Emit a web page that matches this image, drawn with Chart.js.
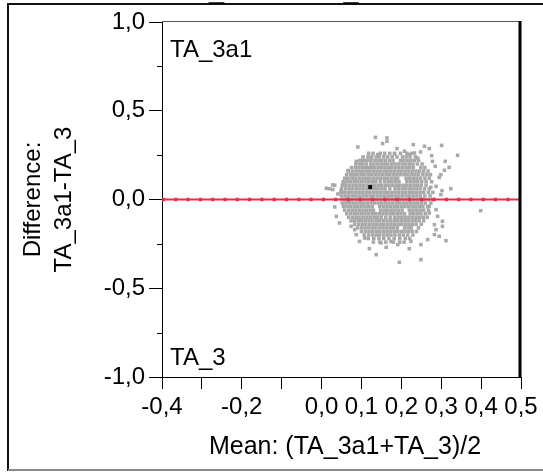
<!DOCTYPE html>
<html><head><meta charset="utf-8">
<script src="https://cdn.jsdelivr.net/npm/chart.js@4.4.1/dist/chart.umd.min.js"></script>
<style>html,body{margin:0;padding:0;background:#fff}canvas{display:block}</style>
</head><body>
<canvas id="c" width="543" height="473"></canvas>
<script>
// ---- data ----
const titleText = 'TA_3a1 vs TA_3';
const xTitle = 'Mean: (TA_3a1+TA_3)/2';
const yTitle = ['Difference:', 'TA_3a1-TA_3'];
const topLabel = 'TA_3a1';
const bottomLabel = 'TA_3';
const xTickLabels = ['-0,4','-0,2','0,0','0,1','0,2','0,3','0,4','0,5'];
const yTickLabels = ['-1,0','-0,5','0,0','0,5','1,0'];
const meanLineY = [0, 0];
const meanLineX = [-0.4, 0.5];
const centerMean = [0.122];
const centerDiff = [0.07];

// dense core of the cloud, row by row (difference value, then the mean values in that row)
const diffRows = [0.26,0.24,0.22,0.20,0.18,0.16,0.14,0.12,0.10,0.08,0.06,0.04,0.02,0.00,-0.02,-0.04,-0.06,-0.08,-0.10,-0.12,-0.14,-0.16,-0.18,-0.20,-0.22,-0.24];
const meanRows = [
 [0.118,0.129,0.147,0.158,0.171,0.183,0.198,0.214,0.226],
 [0.104,0.116,0.126,0.137,0.145,0.156,0.166,0.177,0.189,0.203,0.212,0.222,0.235],
 [0.096,0.107,0.115,0.124,0.134,0.142,0.151,0.160,0.170,0.179,0.198,0.206,0.215,0.224,0.233,0.243],
 [0.086,0.095,0.103,0.112,0.123,0.131,0.140,0.149,0.157,0.166,0.176,0.184,0.193,0.202,0.211,0.220,0.229,0.240,0.252],
 [0.075,0.085,0.094,0.103,0.110,0.118,0.125,0.133,0.142,0.150,0.159,0.168,0.176,0.185,0.194,0.203,0.212,0.221,0.230,0.249,0.259],
 [0.068,0.078,0.087,0.096,0.104,0.113,0.121,0.130,0.139,0.148,0.157,0.165,0.174,0.183,0.192,0.201,0.210,0.219,0.228,0.237,0.246,0.256,0.267],
 [0.063,0.073,0.082,0.091,0.100,0.108,0.117,0.126,0.135,0.144,0.153,0.162,0.171,0.180,0.189,0.198,0.207,0.216,0.225,0.234,0.243,0.254,0.264,0.273],
 [0.058,0.068,0.077,0.086,0.095,0.104,0.112,0.121,0.130,0.139,0.148,0.157,0.166,0.175,0.184,0.191,0.212,0.221,0.230,0.239,0.248,0.259,0.270],
 [0.054,0.064,0.073,0.082,0.091,0.100,0.109,0.118,0.127,0.136,0.147,0.158,0.167,0.176,0.185,0.194,0.214,0.223,0.232,0.241,0.251,0.262,0.276],
 [0.052,0.061,0.070,0.079,0.088,0.097,0.106,0.115,0.124,0.133,0.142,0.151,0.160,0.169,0.178,0.187,0.196,0.205,0.214,0.223,0.232,0.241,0.250,0.262],
 [0.050,0.060,0.069,0.078,0.087,0.096,0.105,0.114,0.123,0.132,0.141,0.150,0.159,0.171,0.184,0.193,0.202,0.211,0.220,0.229,0.238,0.247,0.258,0.270],
 [0.049,0.058,0.067,0.076,0.085,0.094,0.103,0.112,0.121,0.130,0.139,0.148,0.157,0.166,0.175,0.184,0.193,0.202,0.211,0.220,0.229,0.238,0.247,0.256,0.268,0.279],
 [0.050,0.059,0.068,0.077,0.086,0.095,0.104,0.113,0.122,0.131,0.140,0.149,0.158,0.167,0.176,0.185,0.194,0.203,0.212,0.221,0.230,0.239,0.248,0.259,0.272],
 [0.051,0.060,0.069,0.078,0.087,0.096,0.105,0.114,0.123,0.132,0.141,0.150,0.159,0.168,0.177,0.186,0.195,0.204,0.213,0.222,0.231,0.240,0.249,0.258,0.268,0.279],
 [0.052,0.061,0.070,0.079,0.088,0.097,0.106,0.115,0.124,0.133,0.142,0.151,0.160,0.169,0.178,0.187,0.196,0.205,0.214,0.223,0.232,0.241,0.250,0.260,0.274],
 [0.055,0.064,0.073,0.082,0.091,0.100,0.109,0.118,0.127,0.146,0.155,0.164,0.173,0.182,0.191,0.200,0.209,0.218,0.227,0.236,0.245,0.254,0.266],
 [0.058,0.068,0.077,0.086,0.095,0.104,0.113,0.122,0.130,0.148,0.157,0.166,0.175,0.184,0.193,0.202,0.220,0.229,0.238,0.247,0.256,0.268],
 [0.063,0.073,0.082,0.091,0.100,0.109,0.118,0.127,0.136,0.145,0.154,0.163,0.172,0.181,0.190,0.199,0.208,0.222,0.231,0.240,0.249,0.260],
 [0.068,0.078,0.087,0.096,0.105,0.114,0.123,0.132,0.141,0.150,0.161,0.172,0.183,0.192,0.201,0.210,0.219,0.228,0.237,0.246,0.255,0.265],
 [0.074,0.083,0.092,0.101,0.110,0.119,0.128,0.137,0.146,0.155,0.164,0.173,0.182,0.191,0.200,0.209,0.218,0.227,0.236,0.245,0.256],
 [0.083,0.093,0.102,0.111,0.120,0.129,0.138,0.147,0.156,0.165,0.174,0.183,0.192,0.201,0.210,0.219,0.228,0.237,0.250],
 [0.090,0.100,0.109,0.118,0.127,0.136,0.145,0.154,0.163,0.172,0.181,0.190,0.208,0.217,0.225,0.243],
 [0.100,0.110,0.119,0.128,0.137,0.146,0.155,0.164,0.173,0.182,0.191,0.200,0.209,0.218,0.227,0.238],
 [0.107,0.118,0.128,0.137,0.146,0.156,0.165,0.174,0.184,0.195,0.205,0.216,0.229],
 [0.117,0.131,0.144,0.156,0.169,0.182,0.196,0.210,0.221],
 [0.130,0.146,0.161,0.180,0.196,0.207]
];

// scattered points around the core
const outMean = [0.135,0.164,0.164,0.153,0.091,0.230,0.258,0.270,0.301,0.189,0.208,0.183,0.141,0.218,0.233,0.248,0.341,0.276,0.278,0.310,0.241,0.087,0.103,0.124,0.285,0.320,0.308,0.299,0.295,0.066,0.077,0.062,0.056,0.033,0.020,0.028,0.049,0.041,0.324,0.302,0.299,0.287,0.274,0.033,0.037,0.045,0.070,0.270,0.287,0.270,0.399,0.291,0.303,0.283,0.303,0.074,0.083,0.087,0.095,0.108,0.120,0.137,0.162,0.191,0.195,0.220,0.249,0.249,0.266,0.283,0.295,0.312,0.287,0.224,0.174,0.149,0.012,0.028];
const outDiff = [0.350,0.347,0.328,0.315,0.296,0.309,0.300,0.287,0.305,0.287,0.272,0.257,0.253,0.253,0.262,0.268,0.249,0.247,0.215,0.215,0.234,0.215,0.221,0.234,0.187,0.181,0.165,0.140,0.125,0.163,0.140,0.118,0.093,0.080,0.061,0.056,0.046,0.031,0.061,0.050,0.027,0.074,0.069,-0.042,-0.095,-0.132,-0.010,-0.038,-0.057,-0.076,-0.063,-0.095,-0.123,-0.142,-0.151,-0.151,-0.170,-0.198,-0.236,-0.217,-0.277,-0.311,-0.269,-0.254,-0.354,-0.277,-0.254,-0.339,-0.226,-0.198,-0.207,-0.232,-0.170,-0.236,-0.236,-0.245,0.063,0.082];

// ---- build datasets ----
const corePts = [];
diffRows.forEach((d, i) => meanRows[i].forEach(m => corePts.push({x: m, y: d})));
const outPts = outMean.map((m, i) => ({x: m, y: outDiff[i]}));
const linePts = meanLineX.map((m, i) => ({x: m, y: meanLineY[i]}));
const centerPts = centerMean.map((m, i) => ({x: m, y: centerDiff[i]}));

const FONT = '"Liberation Sans", Arial, sans-serif';
const RED = 'rgb(238,42,70)';
const GRAY = '#a9a9a9';
const fmt = v => (Math.round(v * 100) / 100).toFixed(1).replace('.', ',');

const decor = {
  id: 'decor',
  beforeDraw(chart) {
    const ctx = chart.ctx;
    ctx.save();
    ctx.fillStyle = '#fff';
    ctx.fillRect(0, 0, chart.width, chart.height);
    ctx.restore();
  },
  afterDraw(chart) {
    const ctx = chart.ctx;
    const a = chart.chartArea;
    const ys = chart.scales.y;
    ctx.save();
    // minor y ticks
    ctx.strokeStyle = '#000'; ctx.lineWidth = 1;
    [0.75, 0.25, -0.25, -0.75].forEach(v => {
      const py = Math.round(ys.getPixelForValue(v)) + 0.5;
      ctx.beginPath(); ctx.moveTo(a.left - 5, py); ctx.lineTo(a.left, py); ctx.stroke();
    });
    // plot frame: top and right
    ctx.strokeStyle = '#555'; ctx.lineWidth = 1;
    ctx.beginPath(); ctx.moveTo(a.left, a.top - 0.5); ctx.lineTo(a.right, a.top - 0.5); ctx.stroke();
    ctx.strokeStyle = '#000'; ctx.lineWidth = 3;
    ctx.beginPath(); ctx.moveTo(a.right - 1, a.top - 1); ctx.lineTo(a.right - 1, a.bottom + 1); ctx.stroke();
    // outer box
    ctx.lineWidth = 2;
    ctx.strokeStyle = '#111';
    ctx.beginPath(); ctx.moveTo(8, 4); ctx.lineTo(chart.width, 4); ctx.stroke();
    ctx.beginPath(); ctx.moveTo(8, 3); ctx.lineTo(8, 471); ctx.stroke();
    ctx.strokeStyle = '#888';
    ctx.beginPath(); ctx.moveTo(8, 470); ctx.lineTo(chart.width, 470); ctx.stroke();
    // texts
    ctx.fillStyle = '#000';
    ctx.textBaseline = 'alphabetic';
    ctx.font = '24px ' + FONT;
    ctx.textAlign = 'left';
    ctx.fillText(topLabel, a.left + 8, 57);
    ctx.fillText(bottomLabel, a.left + 8, 365);
    ctx.textAlign = 'center';
    ctx.font = '25px ' + FONT;
    ctx.fillText(xTitle, 345, 454);
    ctx.font = '27px ' + FONT;
    ctx.fillText(titleText, 275, -2.5);
    ctx.restore();
  }
};

new Chart(document.getElementById('c'), {
  type: 'scatter',
  data: {
    datasets: [
      { type: 'line', data: linePts, borderColor: RED, borderWidth: 2, pointRadius: 0, fill: false },
      { type: 'line', data: linePts, borderColor: RED, borderWidth: 3.5, borderDash: [3, 9.3], pointRadius: 0, fill: false },
      { data: centerPts, pointStyle: 'rect', pointRadius: 2.8, backgroundColor: '#000', borderWidth: 0 },
      { data: corePts, pointStyle: 'rect', pointRadius: 2.5, backgroundColor: GRAY, borderWidth: 0 },
      { data: outPts, pointStyle: 'rect', pointRadius: 2.5, backgroundColor: GRAY, borderWidth: 0 }
    ]
  },
  options: {
    responsive: false,
    animation: false,
    devicePixelRatio: 1,
    layout: { padding: { left: 0, right: 22, top: 22, bottom: 0 } },
    plugins: { legend: { display: false }, tooltip: { enabled: false } },
    scales: {
      x: {
        type: 'linear', min: -0.4, max: 0.5,
        afterFit: s => { s.height = 96; },
        ticks: {
          stepSize: 0.1, autoSkip: false, maxRotation: 0, padding: 4, color: '#000',
          font: { family: FONT, size: 24 },
          callback: v => xTickLabels.includes(fmt(v)) ? fmt(v) : ''
        },
        grid: { drawOnChartArea: false, drawTicks: true, tickLength: 12, tickColor: '#000', tickWidth: 1 },
        border: { display: true, color: '#000', width: 1 }
      },
      y: {
        type: 'linear', min: -1, max: 1,
        afterFit: s => { s.width = 162; },
        ticks: {
          stepSize: 0.25, autoSkip: false, padding: 4, color: '#000',
          font: { family: FONT, size: 24 },
          callback: v => yTickLabels.includes(fmt(v)) ? fmt(v) : ''
        },
        grid: {
          drawOnChartArea: false, drawTicks: true, tickLength: 13, tickWidth: 1,
          tickColor: c => (c.tick && yTickLabels.includes(fmt(c.tick.value))) ? '#000' : 'rgba(0,0,0,0)'
        },
        border: { display: true, color: '#000', width: 1 },
        title: {
          display: true, text: yTitle, color: '#000',
          font: { family: FONT, size: 24, lineHeight: 1.3 },
          padding: { top: 18, bottom: 0 }
        }
      }
    }
  },
  plugins: [decor]
});
</script>
</body></html>
